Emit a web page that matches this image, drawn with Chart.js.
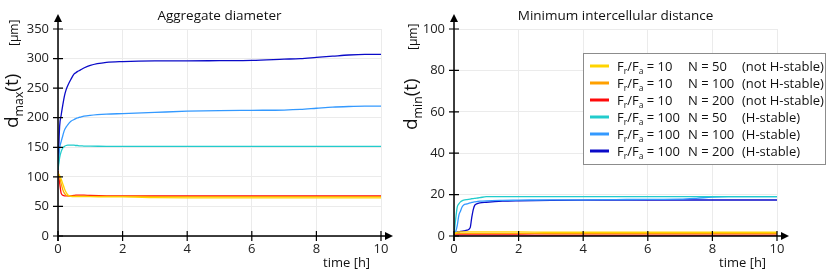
<!DOCTYPE html>
<html>
<head>
<meta charset="utf-8">
<script src="https://cdn.jsdelivr.net/npm/chart.js@4"></script>
<style>
body { margin: 0; background: #fff; }
canvas { position: absolute; top: 0; }
#left { left: 0; }
#right { left: 400px; }
</style>
</head>
<body>
<canvas id="left" width="400" height="274"></canvas>
<canvas id="right" width="430" height="274"></canvas>
<script>
// time samples [h]
const time = [0, 0.05, 0.1, 0.15, 0.2, 0.25, 0.3, 0.4, 0.5, 0.55, 0.6, 0.65, 0.7, 0.8, 1, 1.5, 2, 3, 4, 5, 6, 7, 7.5, 8, 8.5, 9, 9.5, 10];

// legend info per series
const ratios = [10, 10, 10, 100, 100, 100];
const sizes = [50, 100, 200, 50, 100, 200];
const stability = ['(not H-stable)', '(not H-stable)', '(not H-stable)', '(H-stable)', '(H-stable)', '(H-stable)'];

// aggregate diameter d_max [µm]
const dmax_y50 = [105, 102, 96, 88, 80, 74, 70, 67, 66.5, 66.5, 66.5, 66.5, 66.5, 66.5, 66.5, 66, 66, 65, 64.5, 64.5, 64.5, 64.5, 64.5, 64.5, 64.5, 64.5, 64.5, 64.5];
const dmax_y100 = [108, 100, 88, 78, 72, 69, 68, 67.5, 67.5, 67.5, 67.5, 67.5, 67.5, 67.5, 67, 67, 67, 66.5, 66.5, 66.5, 66.5, 66.5, 66.5, 66.5, 66.5, 66.5, 66.5, 66.5];
const dmax_y200 = [110, 90, 72, 69, 68, 68, 68, 68, 68.5, 69, 69, 69, 69, 69, 68.5, 68, 68, 68, 68, 68, 68, 68, 68, 68, 68, 68, 68, 68];
const dmax_h50 = [112, 132, 143, 149, 151.5, 153, 153.5, 153.5, 153.5, 153, 153, 152.5, 152.5, 152, 152, 151.5, 151.5, 151.5, 151.5, 151.5, 151.5, 151.5, 151.5, 151.5, 151.5, 151.5, 151.5, 151.5];
const dmax_h100 = [112, 148, 160, 170, 179, 184, 188, 194, 197, 198.5, 199.5, 200.5, 201, 202.5, 204, 206, 207, 209, 211, 212, 212.5, 213, 214, 216, 218, 219, 219.5, 219.5];
const dmax_h200 = [112, 185, 205, 222, 237, 247, 254, 265, 274, 276, 278, 279.5, 281, 284, 288.5, 293.5, 295, 296, 296, 296.5, 297, 299, 300, 302, 304, 306, 307, 307];

// minimum intercellular distance d_min [µm]
const dmin_y50 = [1, 1.5, 1.8, 2, 2, 2, 2, 2, 2, 2, 2, 2, 2, 2, 2, 2, 2, 1.8, 1.8, 1.8, 1.8, 1.8, 1.8, 1.8, 1.8, 1.8, 1.8, 1.8];
const dmin_y100 = [1, 1.2, 1.3, 1.3, 1.3, 1.3, 1.3, 1.3, 1.3, 1.3, 1.3, 1.3, 1.3, 1.3, 1.3, 1.3, 1.3, 1.2, 1.2, 1.2, 1.2, 1.2, 1.2, 1.2, 1.2, 1.2, 1.2, 1.2];
const dmin_y200 = [0.5, 0.5, 0.5, 0.5, 0.5, 0.5, 0.5, 0.5, 0.5, 0.5, 0.5, 0.5, 0.5, 0.5, 0.5, 0.5, 0.5, 0.4, 0.4, 0.4, 0.4, 0.4, 0.4, 0.4, 0.4, 0.4, 0.4, 0.4];
const dmin_h50 = [1, 8, 14, 15.5, 16.5, 17, 17.3, 17.6, 17.8, 18, 18.1, 18.2, 18.3, 18.5, 19, 19, 19, 19, 19, 19, 19, 19, 19, 19, 19, 19, 19, 19];
const dmin_h100 = [1, 2, 5, 10, 12, 14, 15, 15.5, 16, 16.2, 16.4, 16.5, 16.6, 16.8, 17, 17.2, 17.3, 17.5, 17.5, 17.6, 17.7, 17.8, 18.2, 18.8, 19, 19, 19, 19];
const dmin_h200 = [1, 1.5, 2, 2, 2.2, 2.3, 2.5, 2.8, 4, 9, 13, 15, 15.5, 16, 16.3, 16.8, 17, 17.2, 17.3, 17.3, 17.4, 17.4, 17.4, 17.4, 17.4, 17.4, 17.4, 17.4];

const colors = ['#ffd400', '#ffa000', '#ff0a0a', '#22cccc', '#3399ff', '#0a0ac8'];
const FONT = '"Open Sans", sans-serif';

function drawParts(ctx, parts, x, y, size) {
    parts.forEach(p => {
        const s = p.sub ? size * 0.65 : size;
        ctx.font = s + 'px ' + FONT;
        ctx.fillText(p.t, x, y + (p.sub ? size * 0.28 : 0));
        x += ctx.measureText(p.t).width;
    });
    return x;
}

function makeDatasets(series) {
    return series.map((vals, i) => ({
        data: time.map((t, j) => ({ x: t, y: vals[j] })),
        borderColor: colors[i],
        borderWidth: 1.3,
        pointRadius: 0,
        cubicInterpolationMode: 'monotone',
        fill: false
    }));
}

const decorations = {
    id: 'decorations',
    afterDraw(chart, args, o) {
        const ctx = chart.ctx;
        const a = chart.chartArea;
        const xs = chart.scales.x, ys = chart.scales.y;
        ctx.save();
        ctx.strokeStyle = '#000';
        ctx.fillStyle = '#000';
        ctx.lineWidth = 1.5;
        // axes
        ctx.beginPath();
        ctx.moveTo(a.left, a.bottom); ctx.lineTo(a.right + 8, a.bottom);
        ctx.moveTo(a.left, a.bottom + 5); ctx.lineTo(a.left, a.top - 10);
        ctx.stroke();
        // arrow heads
        ctx.beginPath();
        ctx.moveTo(a.right + 12, a.bottom); ctx.lineTo(a.right + 4, a.bottom - 4); ctx.lineTo(a.right + 4, a.bottom + 4);
        ctx.closePath(); ctx.fill();
        ctx.beginPath();
        ctx.moveTo(a.left, a.top - 15); ctx.lineTo(a.left - 4, a.top - 7); ctx.lineTo(a.left + 4, a.top - 7);
        ctx.closePath(); ctx.fill();
        // crossing tick marks
        ctx.lineWidth = 1.2;
        ctx.beginPath();
        xs.ticks.forEach(t => {
            const px = xs.getPixelForValue(t.value);
            ctx.moveTo(px, a.bottom - 5); ctx.lineTo(px, a.bottom + 5);
        });
        ys.ticks.forEach(t => {
            const py = ys.getPixelForValue(t.value);
            ctx.moveTo(a.left - 5, py); ctx.lineTo(a.left + 5, py);
        });
        ctx.stroke();
        // title
        ctx.fillStyle = '#111';
        ctx.font = '13.5px ' + FONT;
        ctx.textAlign = 'center';
        ctx.textBaseline = 'alphabetic';
        ctx.fillText(o.title, (a.left + a.right) / 2, 20);
        // x title
        ctx.font = '13px ' + FONT;
        ctx.textAlign = 'left';
        ctx.fillText('time [h]', a.right - 58, 267);
        // y title, rotated
        ctx.translate(o.yx, o.yy);
        ctx.rotate(-Math.PI / 2);
        ctx.fillStyle = '#111';
        drawParts(ctx, [{ t: 'd' }, { t: o.sub, sub: true }, { t: '(t)' }], 0, 0, 19);
        ctx.font = '12px ' + FONT;
        ctx.fillText('[µm]', o.unitOffset, 0);
        ctx.restore();

        if (o.legend) {
            const lx = 183, ly = 53;
            ctx.save();
            ctx.fillStyle = '#fff';
            ctx.fillRect(lx, ly, 242, 111);
            ctx.strokeStyle = '#8c8c8c';
            ctx.lineWidth = 1;
            ctx.strokeRect(lx + 0.5, ly + 0.5, 242, 111);
            ctx.textAlign = 'left';
            ratios.forEach((r, i) => {
                const cy = 66 + i * 17;
                ctx.strokeStyle = colors[i];
                ctx.lineWidth = 3;
                ctx.beginPath(); ctx.moveTo(190, cy); ctx.lineTo(209, cy); ctx.stroke();
                ctx.fillStyle = '#111';
                drawParts(ctx, [{ t: 'F' }, { t: 'r', sub: true }, { t: '/F' }, { t: 'a', sub: true }, { t: ' = ' + r }], 217, cy + 4.5, 13);
                ctx.font = '13px ' + FONT;
                ctx.fillText('N = ' + sizes[i], 288, cy + 4.5);
                ctx.fillText(stability[i], 342, cy + 4.5);
            });
            ctx.restore();
        }
    }
};

function makeChart(canvas, series, yMax, yStep, yWidth, rightPad, deco) {
    return new Chart(canvas, {
        type: 'line',
        data: { datasets: makeDatasets(series) },
        options: {
            responsive: false,
            animation: false,
            layout: { padding: { top: 29, right: rightPad, left: 0, bottom: 0 } },
            plugins: {
                legend: { display: false },
                tooltip: { enabled: false },
                decorations: deco
            },
            scales: {
                x: {
                    type: 'linear', min: 0, max: 10,
                    ticks: { stepSize: 2, color: '#222', font: { size: 13, family: FONT }, padding: 5, maxRotation: 0 },
                    grid: { color: '#ebebeb', drawTicks: false },
                    border: { display: false },
                    afterFit: s => { s.height = 38; }
                },
                y: {
                    min: 0, max: yMax,
                    ticks: { stepSize: yStep, color: '#222', font: { size: 13, family: FONT }, padding: 9 },
                    grid: { color: '#ebebeb', drawTicks: false },
                    border: { display: false },
                    afterFit: s => { s.width = yWidth; }
                }
            }
        },
        plugins: [decorations]
    });
}

makeChart(document.getElementById('left'),
    [dmax_y50, dmax_y100, dmax_y200, dmax_h50, dmax_h100, dmax_h200],
    350, 50, 58, 19,
    { title: 'Aggregate diameter', sub: 'max', yx: 18, yy: 128, unitOffset: 82, legend: false });

makeChart(document.getElementById('right'),
    [dmin_y50, dmin_y100, dmin_y200, dmin_h50, dmin_h100, dmin_h200],
    100, 20, 54, 53,
    { title: 'Minimum intercellular distance', sub: 'min', yx: 17, yy: 130, unitOffset: 80, legend: true });
</script>
</body>
</html>
